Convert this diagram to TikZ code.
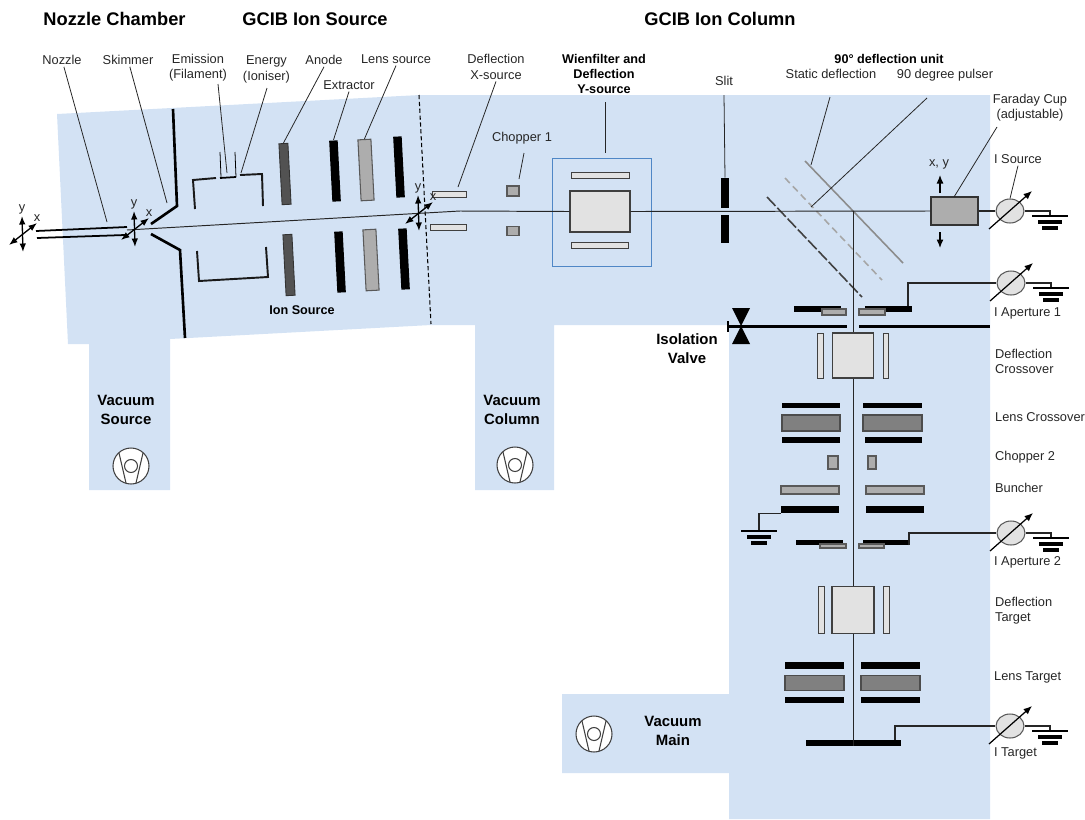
\documentclass[tikz,border=0pt]{standalone}
\usepackage{fontspec}
\setmainfont{Liberation Sans}
\usetikzlibrary{arrows.meta,shapes.geometric}
\definecolor{vacblue}{HTML}{D3E2F4}
\definecolor{wienblue}{HTML}{4F87C6}
\definecolor{plate}{HTML}{E2E2E2}
\def\u{0.2mm}

\begin{document}
\begin{tikzpicture}[
  x=0.02cm, y=-0.02cm,
  lab/.style={inner sep=1pt, align=center, text=black!85, font=\fontsize{7.3}{8.7}\selectfont},
  labl/.style={lab, anchor=west, align=left},
  strong/.style={inner sep=1pt, align=center, font=\fontsize{7.2}{8.7}\selectfont\bfseries},
  vac/.style={strong, font=\fontsize{8.5}{10.8}\selectfont\bfseries},
  head/.style={inner sep=1pt, font=\fontsize{10.4}{12}\selectfont\bfseries},
  size/.style 2 args={inner sep=0, minimum width=#1*\u, minimum height=#2*\u},
  bar/.style={fill=black},
  dark/.style={draw=black!80, fill=black!68, line width=0.5pt},
  mid/.style={draw=black!70, fill=black!50, line width=0.6pt},
  grey/.style={draw=black!65, fill=black!32, line width=0.6pt},
  pale/.style={draw=black!75, fill=plate, line width=0.5pt},
  box/.style={draw=black!75, fill=plate, line width=0.7pt},
  lead/.style={draw=black!85, line width=0.45pt},
  beam/.style={draw=black!85, line width=0.55pt},
  wire/.style={draw=black!85, line width=0.65pt},
  wall/.style={line width=1.5pt},
  cup/.style={line width=1.1pt, draw=black!90},
  meter/.style={ellipse, draw=black!65, fill=plate, line width=0.6pt, inner sep=0,
    minimum width=28*\u, minimum height=24*\u},
  line/.style={-{Latex[length=1.7mm,width=1.4mm]}, line width=0.7pt},
  move/.style={{Latex[length=1.7mm,width=1.3mm]}-{Latex[length=1.7mm,width=1.3mm]}, line width=0.75pt},
  gndsym/.pic={
    \draw[line width=1.5pt] (-18,0) -- (18,0);
    \draw[line width=1.8pt] (-12,6) -- (12,6);
    \draw[line width=2pt] (-8,12) -- (8,12);
  },
  pumpsym/.pic={
    \draw[draw=black!75, fill=white, line width=0.6pt] (0,0) circle (18);
    \draw[draw=black!75, line width=0.6pt] (0,0) circle (6.5);
    \draw[draw=black!75, line width=0.6pt] (-12,-13) -- (-5,17) (12,-13) -- (5,17);
  }
]
\useasboundingbox (0,0) rectangle (1085,819);

% vacuum chambers
\fill[vacblue] (57,114) -- (420,95) -- (990,95) -- (990,819) -- (729,819) -- (729,773)
  -- (562,773) -- (562,694) -- (729,694) -- (729,325) -- (554,325) -- (554,490) -- (475,490)
  -- (475,325) -- (431,325) -- (170,339) -- (170,490) -- (89,490) -- (89,344) -- (68,344) -- cycle;

% free ends of the leaders
\foreach \n/\x/\y in {nozzletip/107/222, skimtip/167/203, emisup/218/84, emistip/227/173,
    enerup/267/88, enertip/241/173, chopup/524/153, choptip/519/179,
    defxtip/458/187, staticup/830/97, statictip/811/165,
    pulseup/927/98, pulsetip/811/207, fctop/997/127, fctip/954/197,
    wientop/605/102, wientip/605/153, slittop/724/95,
    beamstart/127/230, beamknee/460/211, bend/853/211,
    wirea/908/283, wireb/909/533, wirec/895/726, gndl/759/531}
  \coordinate (\n) at (\x,\y);

% deflection unit plates
\draw[draw=black!45, line width=0.9pt] (805,161) -- (903,263);
\draw[draw=black!35, line width=0.9pt, dash pattern=on 4pt off 2.5pt] (785,178) -- (882,280);
\draw[draw=black!75, line width=0.9pt, dash pattern=on 7pt off 1.5pt] (767,197) -- (862,297);

% source electrodes
\foreach \n/\st/\x/\y/\w/\h in {anodea/dark/285/174/9/61, anodeb/dark/289/265/9/61,
    extra/bar/335/171/8.5/61, extrb/bar/340/262/8.5/61,
    lensa/grey/366/170/13/61, lensb/grey/371/260/13/61,
    enda/bar/399/167/8.5/61, endb/bar/404/259/8.5/61}
  \node[\st, size={\w}{\h}, rotate=3] (\n) at (\x,\y) {};

% column electrodes
\foreach \n/\st/\x/\y/\w/\h in {defxa/pale/449/194/34/6, defxb/pale/448/227/36/6,
    chopa/grey/513/191/12/10, chopb/grey/513/231/12/9,
    wiena/pale/600/175/58/6, wienb/pale/600/245/57/6,
    slita/bar/725/193/8/30, slitb/bar/725/229/8/28,
    apaa/bar/817.5/309/47/6, apab/bar/888.5/309/47/6, apac/grey/834/312/24/6, apad/grey/872/312/26/6,
    valvea/bar/787.5/326/119/3, valveb/bar/924.5/326/131/3,
    dcl/pale/820/355.5/6/45, dcr/pale/885.5/355.5/5/45,
    lca/bar/811/405.5/58/5.5, lcb/bar/892.5/405.5/59/5.5, lcc/mid/811/423/58/16, lcd/mid/892.5/423/59/16,
    lce/bar/811/440/58/6, lcf/bar/893.5/440/57/6,
    chpa/grey/833/462.5/10/13, chpb/grey/872/462.5/8/13,
    buna/grey/810/490/58/8, bunb/grey/895/490/58/8,
    bunc/bar/810/509.5/58/7, bund/bar/895/509.5/58/7,
    apba/bar/819.5/542.5/47/5, apbb/bar/886/542.5/46/5, apbc/grey/833/546/26/4, apbd/grey/871.5/546/25/4,
    dtl/pale/821/610/6/47, dtr/pale/886.5/610/6/47,
    lta/bar/814.5/665.5/59/6.5, ltb/bar/890.5/665.5/59/6.5, ltc/mid/814.5/683/59/15, ltd/mid/890.5/683/59/15,
    lte/bar/814.5/700/59/6, ltf/bar/890.5/700/59/6,
    targ/bar/853/743/95/6}
  \node[\st, size={\w}{\h}] (\n) at (\x,\y) {};

\node[draw=wienblue, line width=0.5pt, size={99}{108}] (wienframe) at (601.5,212) {};
\node[box, size={60}{41}] (wien) at (600,211.5) {};
\node[box, size={41}{45}] (defc) at (853,355.5) {};
\node[box, size={42}{47}] (deft) at (853,610) {};
\node[draw=black!80, fill=black!32, line width=0.7pt, size={47}{28}] (fc) at (954.5,211) {};

% nozzle and skimmer
\draw[line width=1pt] (36,231) -- (127,227);
\draw[line width=1pt] (37,238) -- (125,235);
\draw[wall] (173,109) -- (177,206) -- (151,224);
\draw[wall] (151,234) -- (180,250) -- (185,338);
\draw[cup] (195,209) -- (193,180) -- (216,178);
\draw[cup] (240,175) -- (262,174) -- (263,206);
\draw[cup] (197,251) -- (199,281) -- (268,277) -- (266,247);
\draw[line width=1pt] (220,178) -- (236,177);
\draw[line width=0.45pt] (220,152) -- (221,177);
\draw[line width=0.45pt] (235,152) -- (236,177);

% beam
\draw[beam] (beamstart) -- (beamknee) -- (wien.west);
\draw[beam] (wien.east) -- (fc.west);
\draw[beam] (bend) -- (defc.north);
\draw[beam] (defc.south) -- (deft.north);
\draw[beam] (deft.south) -- (targ.south);

% valve
\fill (732,308) -- (750,308) -- (741,326) -- (750,344) -- (732,344) -- (741,326) -- cycle;
\draw[line width=1pt] (728,321) -- (728,332);

% manipulators
\foreach \n/\x/\y in {a/22/230, b/134/225, c/418/209} {
  \begin{scope}[shift={(\x,\y)}]
    \draw[move] (0,-14) -- (1,22);
    \draw[move] (-13,15) -- (15,-7);
    \node[lab] (y\n) at (0,-21) {y};
    \node[lab] (x\n) at (15,-12) {x};
  \end{scope}
}
\draw[line] (940,193) -- (940,175);
\draw[line] (940,232) -- (940,248);

% pumps
\path (131,466) pic {pumpsym};
\path (515,465) pic {pumpsym};
\path (594,734) pic {pumpsym};

% current meters
\foreach \n/\x/\y in {msrc/1010/211, mapa/1011/283, mapb/1011/533, mtgt/1010/726} {
  \node[meter] (\n) at (\x,\y) {};
  \draw[line] (\x-21,\y+18) -- (\x+22,\y-20);
  \coordinate (\n-gnd) at (\x+40,\y+5);
  \draw[wire] (\n.east) -| (\n-gnd);
  \path (\n-gnd) pic {gndsym};
}
\draw[wire] (fc.east) -- (msrc.west);
\draw[wire] (apab.north east -| wirea) -- (wirea) -- (mapa.west);
\draw[wire] (apbb.south east -| wireb) -- (wireb) -- (mapb.west);
\draw[wire] (targ.north east -| wirec) -- (wirec) -- (mtgt.west);
\draw[wire] (bunc.south west) -| (gndl);
\path (gndl) pic {gndsym};

% section divider
\draw[line width=0.6pt, dash pattern=on 2.4pt off 1.5pt] (419,95) -- (431,324);

% titles
\node[head] (nozzlechamber) at (114.5,19) {Nozzle Chamber};
\node[head] (ionsource) at (315,19) {GCIB Ion Source};
\node[head] (ioncolumn) at (720,19) {GCIB Ion Column};

% labels
\node[lab] (nozzlelab) at (62,60) {Nozzle};
\node[lab] (skimlab) at (128,60) {Skimmer};
\node[lab] (emislab) at (198,68) {Emission\\(Filament)};
\node[lab] (enerlab) at (266.5,69.5) {Energy\\(Ioniser)};
\node[lab] (anodelab) at (324,60) {Anode};
\node[lab] (lenslab) at (396,59) {Lens source};
\node[lab] (extrlab) at (349,85) {Extractor};
\node[lab] (defxlab) at (496,67) {Deflection\\X-source};
\node[lab] (choplab) at (522,138) {Chopper 1};
\node[strong] (wienlab) at (604,74) {Wienfilter and\\Deflection\\Y-source};
\node[lab] (slitlab) at (724,81) {Slit};
\node[strong] (unitlab) at (889,59) {90° deflection unit};
\node[lab] (staticlab) at (831,74) {Static deflection};
\node[lab] (pulselab) at (945,75.5) {90 degree pulser};
\node[lab] (fclab) at (1030,108) {Faraday Cup\\(adjustable)};
\node[lab] (xylab) at (939,164) {x, y};
\node[labl] (isrclab) at (992,159) {I Source};
\node[labl] (iapalab) at (992,313) {I Aperture 1};
\node[labl] (dclab) at (993,361.5) {Deflection\\Crossover};
\node[labl] (lclab) at (993,417) {Lens Crossover};
\node[labl] (chpblab) at (993,457) {Chopper 2};
\node[labl] (bunlab) at (993,488) {Buncher};
\node[labl] (iapblab) at (992,562) {I Aperture 2};
\node[labl] (dtlab) at (993,610.5) {Deflection\\Target};
\node[labl] (ltlab) at (992,677) {Lens Target};
\node[labl] (itlab) at (992,753) {I Target};
\node[strong] (ionlab) at (302,310) {Ion Source};
\node[vac] (valvelab) at (687,348.5) {Isolation\\Valve};
\node[vac] (vacsrc) at (126,409.5) {Vacuum\\Source};
\node[vac] (vaccol) at (512,409.5) {Vacuum\\Column};
\node[vac] (vacmain) at (673,731) {Vacuum\\Main};

% leaders
\draw[lead] (nozzlelab) -- (nozzletip);
\draw[lead] (skimlab) -- (skimtip);
\draw[lead] (emisup) -- (emistip);
\draw[lead] (enerup) -- (enertip);
\draw[lead] (anodelab.south) -- (anodea.north);
\draw[lead] (lenslab.south) -- (lensa.north);
\draw[lead] (extrlab.south) -- (extra.north);
\draw[lead] (defxlab.south) -- (defxtip);
\draw[lead] (chopup) -- (choptip);
\draw[lead] (wientop) -- (wientip);
\draw[lead] (slittop) -- (slita.north);
\draw[lead] (staticup) -- (statictip);
\draw[lead] (pulseup) -- (pulsetip);
\draw[lead] (fctop) -- (fctip);
\draw[lead] (isrclab.south) -- (msrc.north);
\end{tikzpicture}
\end{document}
